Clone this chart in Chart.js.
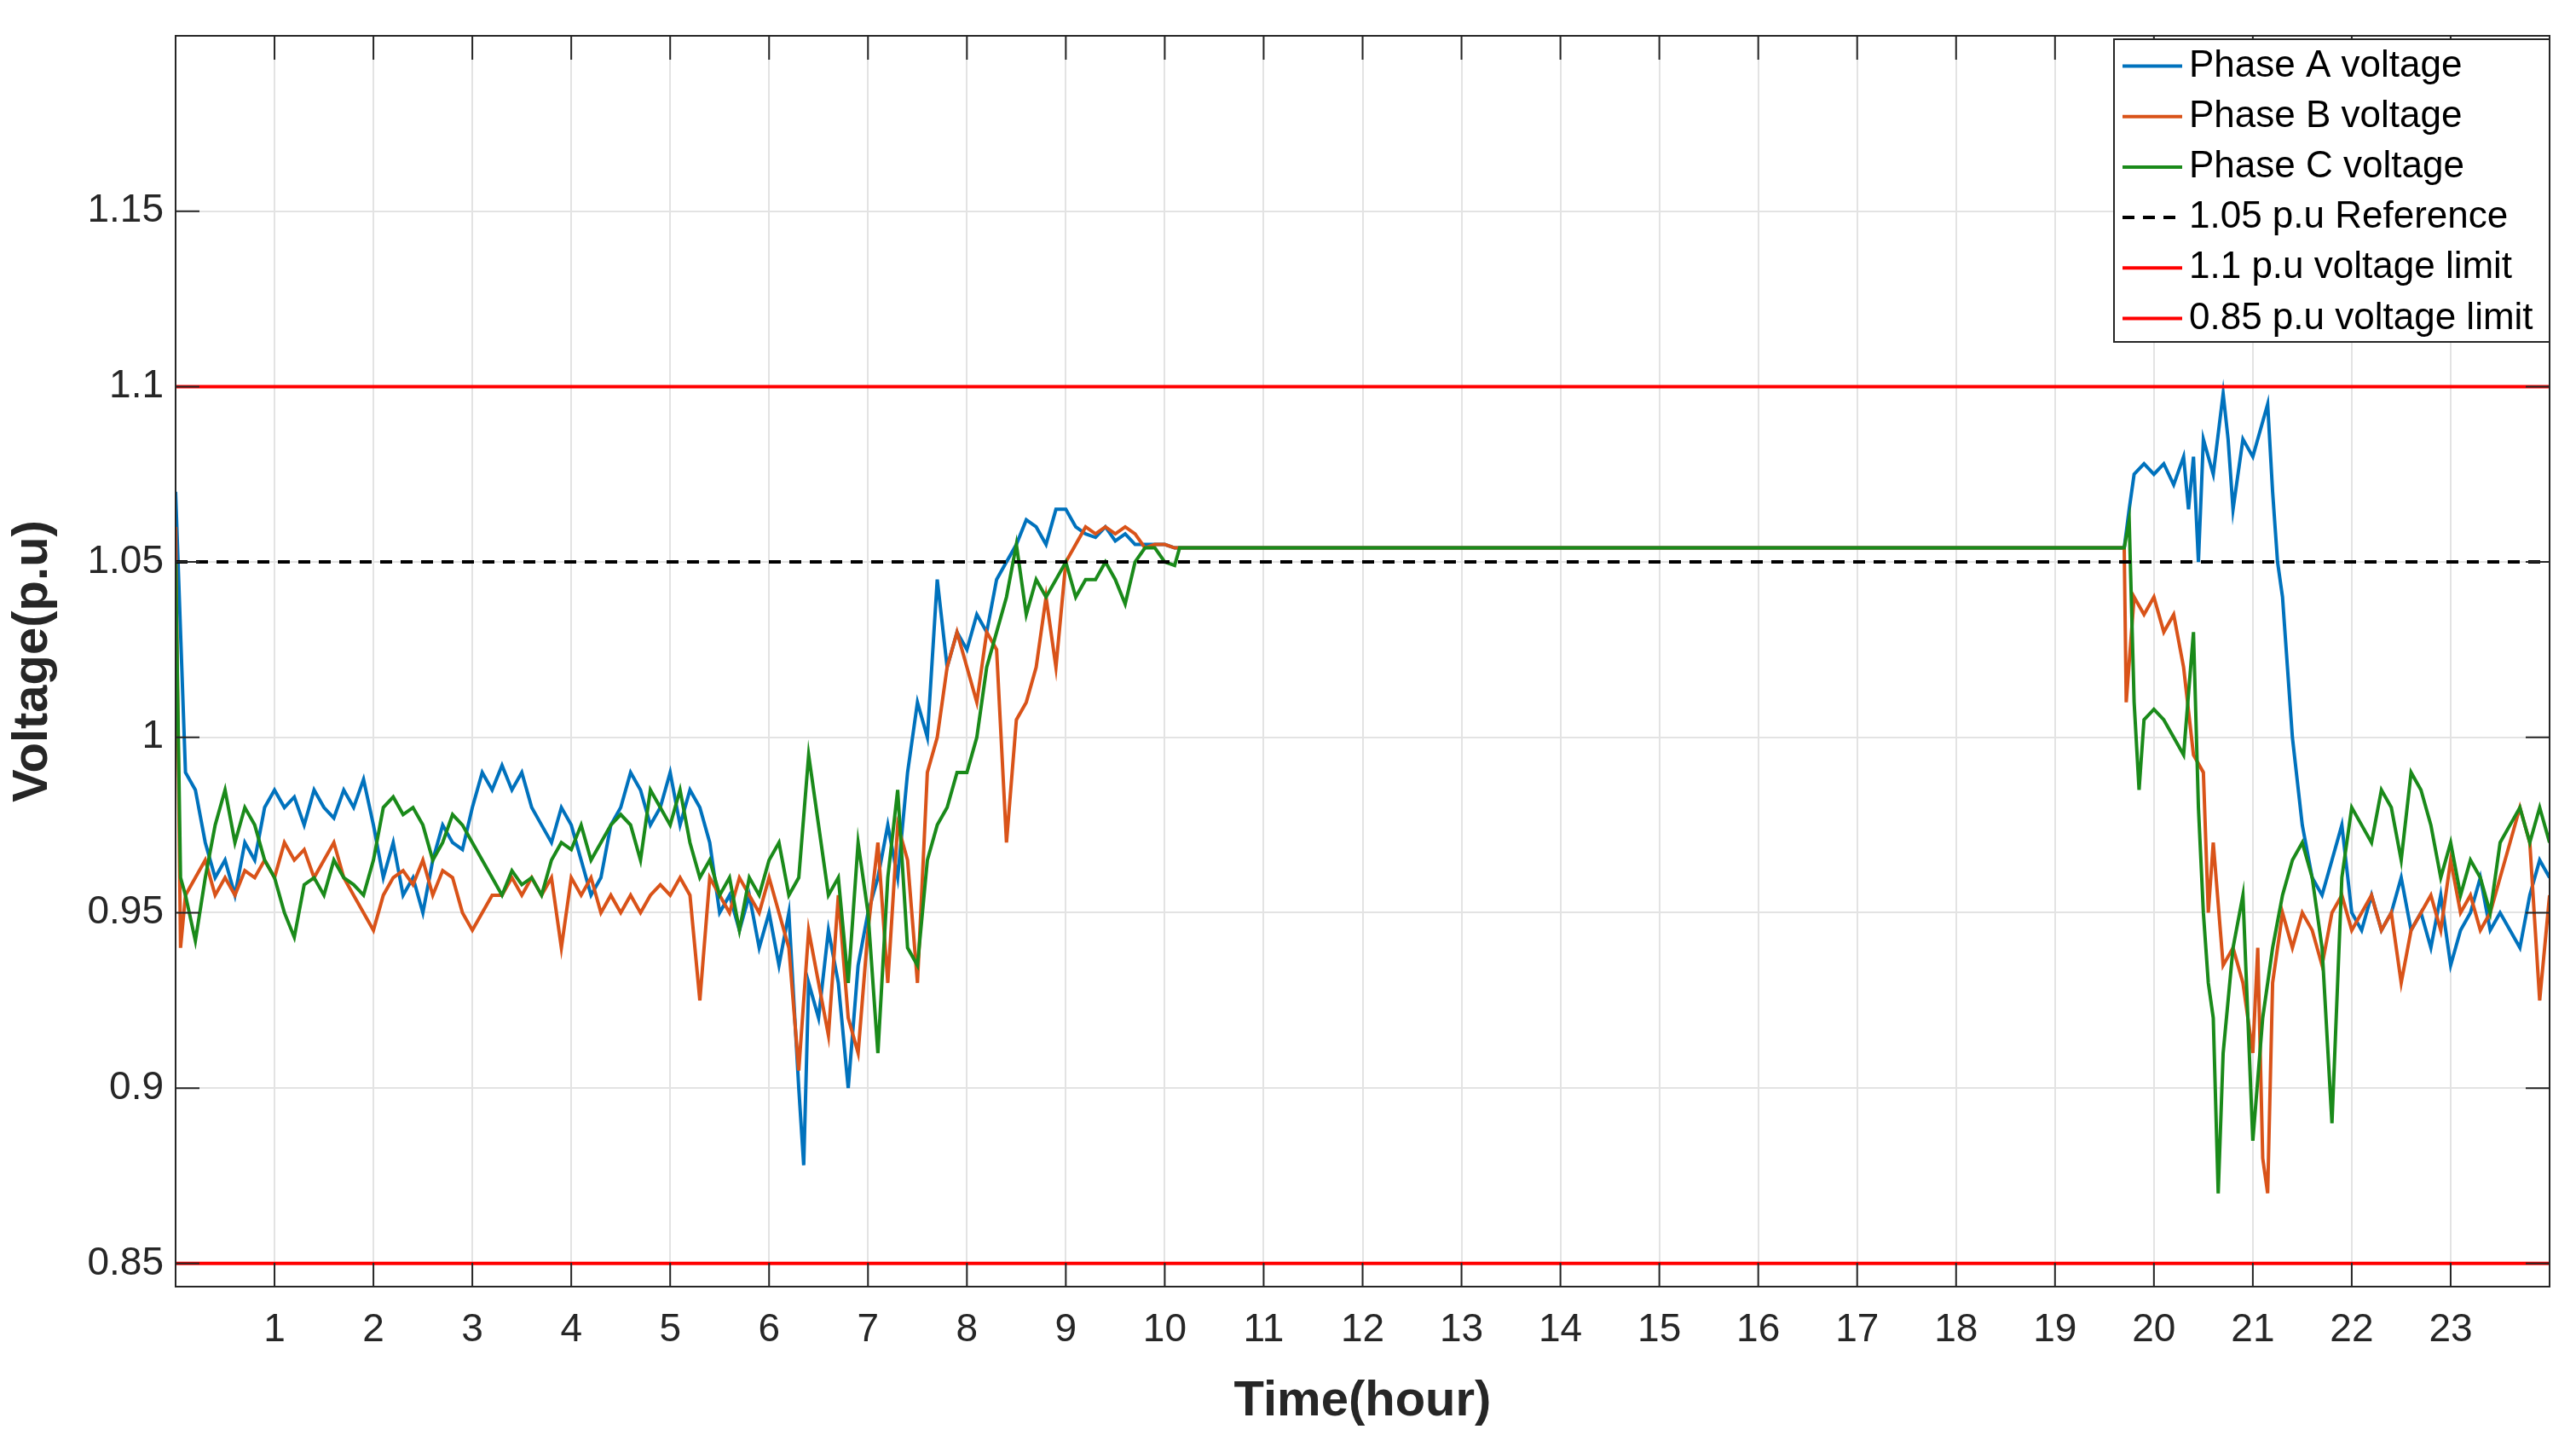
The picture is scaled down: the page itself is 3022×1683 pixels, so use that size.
<!DOCTYPE html>
<html><head><meta charset="utf-8">
<script src="https://cdn.jsdelivr.net/npm/chart.js@4"></script>
<style>html,body{margin:0;padding:0;background:#fff}#w{width:3022px;height:1683px}</style>
</head><body><div id="w"><canvas id="c"></canvas></div>
<script>
const xTicks=[1,2,3,4,5,6,7,8,9,10,11,12,13,14,15,16,17,18,19,20,21,22,23];
const yTicks=[0.85,0.9,0.95,1,1.05,1.1,1.15];
const seriesNames=["Phase A voltage","Phase B voltage","Phase C voltage","1.05 p.u Reference","1.1 p.u voltage limit","0.85 p.u voltage limit"];
const aTime=[0,0.1,0.2,0.3,0.4,0.5,0.6,0.7,0.8,0.9,1.0,1.1,1.2,1.3,1.4,1.5,1.6,1.7,1.8,1.9,2.0,2.1,2.2,2.3,2.4,2.5,2.6,2.7,2.8,2.9,3.0,3.1,3.2,3.3,3.4,3.5,3.6,3.7,3.8,3.9,4.0,4.1,4.2,4.3,4.4,4.5,4.6,4.7,4.8,4.9,5.0,5.1,5.2,5.3,5.4,5.5,5.6,5.7,5.8,5.9,6.0,6.1,6.2,6.3,6.35,6.4,6.5,6.6,6.7,6.8,6.9,7.0,7.1,7.2,7.3,7.4,7.5,7.6,7.7,7.8,7.9,8.0,8.1,8.2,8.3,8.4,8.5,8.6,8.7,8.8,8.9,9.0,9.1,9.2,9.3,9.4,9.5,9.6,9.7,9.8,9.9,10.0,10.1,19.7,19.75,19.8,19.9,20.0,20.1,20.2,20.3,20.35,20.4,20.45,20.5,20.6,20.7,20.75,20.8,20.9,21.0,21.1,21.15,21.2,21.25,21.3,21.35,21.4,21.5,21.6,21.7,21.8,21.9,22.0,22.1,22.2,22.3,22.4,22.5,22.6,22.7,22.8,22.9,23.0,23.1,23.2,23.3,23.4,23.5,23.6,23.7,23.8,23.9,24];
const aVolt=[1.07,0.99,0.985,0.97,0.96,0.965,0.955,0.97,0.965,0.98,0.985,0.98,0.983,0.975,0.985,0.98,0.977,0.985,0.98,0.988,0.975,0.96,0.97,0.955,0.96,0.95,0.965,0.975,0.97,0.968,0.98,0.99,0.985,0.992,0.985,0.99,0.98,0.975,0.97,0.98,0.975,0.965,0.955,0.96,0.975,0.98,0.99,0.985,0.975,0.98,0.99,0.975,0.985,0.98,0.97,0.95,0.955,0.945,0.955,0.94,0.95,0.935,0.95,0.9,0.878,0.93,0.92,0.945,0.93,0.9,0.935,0.95,0.96,0.975,0.96,0.99,1.01,1.0,1.045,1.02,1.03,1.025,1.035,1.03,1.045,1.05,1.055,1.062,1.06,1.055,1.065,1.065,1.06,1.058,1.057,1.06,1.056,1.058,1.055,1.055,1.055,1.055,1.054,1.054,1.065,1.075,1.078,1.075,1.078,1.072,1.08,1.065,1.08,1.05,1.085,1.075,1.098,1.085,1.065,1.085,1.08,1.09,1.095,1.07,1.05,1.04,1.02,1.0,0.975,0.96,0.955,0.965,0.975,0.95,0.945,0.955,0.945,0.95,0.96,0.945,0.95,0.94,0.955,0.935,0.945,0.95,0.96,0.945,0.95,0.945,0.94,0.955,0.965,0.96];
const bTime=[0,0.05,0.1,0.2,0.3,0.4,0.5,0.6,0.7,0.8,0.9,1.0,1.1,1.2,1.3,1.4,1.5,1.6,1.7,1.8,1.9,2.0,2.1,2.2,2.3,2.4,2.5,2.6,2.7,2.8,2.9,3.0,3.1,3.2,3.3,3.4,3.5,3.6,3.7,3.8,3.9,4.0,4.1,4.2,4.3,4.4,4.5,4.6,4.7,4.8,4.9,5.0,5.1,5.2,5.3,5.4,5.5,5.6,5.7,5.8,5.9,6.0,6.1,6.2,6.3,6.4,6.5,6.6,6.7,6.8,6.9,7.0,7.1,7.2,7.3,7.4,7.5,7.6,7.7,7.8,7.9,8.0,8.1,8.2,8.3,8.4,8.5,8.6,8.7,8.8,8.9,9.0,9.1,9.2,9.3,9.4,9.5,9.6,9.7,9.8,9.9,10.0,10.1,19.7,19.72,19.8,19.9,20.0,20.1,20.2,20.3,20.4,20.5,20.55,20.6,20.7,20.8,20.9,21.0,21.05,21.1,21.15,21.2,21.3,21.4,21.5,21.6,21.7,21.8,21.9,22.0,22.1,22.2,22.3,22.4,22.5,22.6,22.7,22.8,22.9,23.0,23.1,23.2,23.3,23.4,23.5,23.6,23.7,23.8,23.9,24];
const bVolt=[1.06,0.94,0.955,0.96,0.965,0.955,0.96,0.955,0.962,0.96,0.965,0.96,0.97,0.965,0.968,0.96,0.965,0.97,0.96,0.955,0.95,0.945,0.955,0.96,0.962,0.958,0.965,0.955,0.962,0.96,0.95,0.945,0.95,0.955,0.955,0.96,0.955,0.96,0.955,0.96,0.94,0.96,0.955,0.96,0.95,0.955,0.95,0.955,0.95,0.955,0.958,0.955,0.96,0.955,0.925,0.96,0.955,0.95,0.96,0.955,0.95,0.96,0.95,0.94,0.905,0.945,0.93,0.915,0.955,0.92,0.91,0.945,0.97,0.93,0.975,0.965,0.93,0.99,1.0,1.02,1.03,1.02,1.01,1.03,1.025,0.97,1.005,1.01,1.02,1.04,1.02,1.05,1.055,1.06,1.058,1.06,1.058,1.06,1.058,1.054,1.055,1.055,1.054,1.054,1.01,1.04,1.035,1.04,1.03,1.035,1.02,0.995,0.99,0.95,0.97,0.935,0.94,0.93,0.91,0.94,0.88,0.87,0.93,0.95,0.94,0.95,0.945,0.935,0.95,0.955,0.945,0.95,0.955,0.945,0.95,0.93,0.945,0.95,0.955,0.945,0.965,0.95,0.955,0.945,0.95,0.96,0.97,0.98,0.97,0.925,0.955];
const cTime=[0,0.05,0.1,0.2,0.3,0.4,0.5,0.6,0.7,0.8,0.9,1.0,1.1,1.2,1.3,1.4,1.5,1.6,1.7,1.8,1.9,2.0,2.1,2.2,2.3,2.4,2.5,2.6,2.7,2.8,2.9,3.0,3.1,3.2,3.3,3.4,3.5,3.6,3.7,3.8,3.9,4.0,4.1,4.2,4.3,4.4,4.5,4.6,4.7,4.8,4.9,5.0,5.1,5.2,5.3,5.4,5.5,5.6,5.7,5.8,5.9,6.0,6.1,6.2,6.3,6.4,6.5,6.6,6.7,6.8,6.9,7.0,7.1,7.2,7.3,7.4,7.5,7.6,7.7,7.8,7.9,8.0,8.1,8.2,8.3,8.4,8.5,8.6,8.7,8.8,8.9,9.0,9.1,9.2,9.3,9.4,9.5,9.6,9.7,9.8,9.9,10.0,10.1,10.15,19.7,19.75,19.8,19.85,19.9,20.0,20.1,20.2,20.3,20.4,20.45,20.5,20.55,20.6,20.65,20.7,20.8,20.9,21.0,21.1,21.2,21.3,21.4,21.5,21.6,21.7,21.8,21.9,22.0,22.1,22.2,22.3,22.4,22.5,22.6,22.7,22.8,22.9,23.0,23.1,23.2,23.3,23.4,23.5,23.6,23.7,23.8,23.9,24];
const cVolt=[1.05,0.96,0.955,0.942,0.96,0.975,0.985,0.97,0.98,0.975,0.965,0.96,0.95,0.943,0.958,0.96,0.955,0.965,0.96,0.958,0.955,0.965,0.98,0.983,0.978,0.98,0.975,0.965,0.97,0.978,0.975,0.97,0.965,0.96,0.955,0.962,0.958,0.96,0.955,0.965,0.97,0.968,0.975,0.965,0.97,0.975,0.978,0.975,0.965,0.985,0.98,0.975,0.985,0.97,0.96,0.965,0.955,0.96,0.945,0.96,0.955,0.965,0.97,0.955,0.96,0.995,0.975,0.955,0.96,0.93,0.97,0.95,0.91,0.96,0.985,0.94,0.935,0.965,0.975,0.98,0.99,0.99,1.0,1.02,1.03,1.04,1.055,1.035,1.045,1.04,1.045,1.05,1.04,1.045,1.045,1.05,1.045,1.038,1.05,1.054,1.054,1.05,1.049,1.054,1.054,1.062,1.01,0.985,1.005,1.008,1.005,1.0,0.995,1.03,0.98,0.95,0.93,0.92,0.87,0.91,0.94,0.955,0.885,0.92,0.94,0.955,0.965,0.97,0.96,0.94,0.89,0.96,0.98,0.975,0.97,0.985,0.98,0.965,0.99,0.985,0.975,0.96,0.97,0.955,0.965,0.96,0.95,0.97,0.975,0.98,0.97,0.98,0.97];
const limitTime=[0,24];
const refVolt=[1.05,1.05];
const upperVolt=[1.1,1.1];
const lowerVolt=[0.85,0.85];

const pts=(t,v)=>t.map((x,i)=>({x:x,y:v[i]}));
const colors=['#0072BD','#D95319','#1A8A1A','#000000','#FF0000','#FF0000'];
const F='"Liberation Sans", Arial, sans-serif';
const mk=(i,t,v,extra)=>Object.assign({label:seriesNames[i],data:pts(t,v),borderColor:colors[i],borderWidth:4,pointRadius:0,tension:0,order:6-i},extra||{});

const boxPlugin={id:'box',afterDraw(ch){
  const c=ch.ctx,a=ch.chartArea;
  c.save();
  c.strokeStyle='#262626';c.lineWidth=2;
  c.strokeRect(a.left,a.top,a.right-a.left,a.bottom-a.top);
  const xs=ch.scales.x,ys=ch.scales.y;
  c.beginPath();
  xTicks.forEach(t=>{const p=xs.getPixelForValue(t);c.moveTo(p,a.bottom);c.lineTo(p,a.bottom-28);c.moveTo(p,a.top);c.lineTo(p,a.top+28);});
  yTicks.forEach(t=>{const p=ys.getPixelForValue(t);c.moveTo(a.left,p);c.lineTo(a.left+28,p);c.moveTo(a.right,p);c.lineTo(a.right-28,p);});
  c.stroke();
  const L=2480,T=46,R=2991,B=401;
  c.fillStyle='#fff';c.fillRect(L,T,R-L,B-T);
  c.strokeStyle='#262626';c.lineWidth=2;c.strokeRect(L,T,R-L,B-T);
  c.font='44px '+F;c.textBaseline='middle';c.textAlign='left';
  const rowH=(B-T)/6;
  ch.data.datasets.forEach((d,i)=>{
    const y=T+rowH*(i+0.5)+2;
    c.strokeStyle=d.borderColor;c.lineWidth=4;c.setLineDash(d.borderDash||[]);
    c.beginPath();c.moveTo(L+10,y);c.lineTo(L+80,y);c.stroke();c.setLineDash([]);
    c.fillStyle='#000';c.fillText(d.label,L+88,y);
  });
  c.restore();
}};

new Chart(document.getElementById('c'),{
  type:'line',
  data:{datasets:[
    mk(0,aTime,aVolt),mk(1,bTime,bVolt),mk(2,cTime,cVolt),
    mk(3,limitTime,refVolt,{borderDash:[14,10]}),
    mk(4,limitTime,upperVolt),mk(5,limitTime,lowerVolt)
  ]},
  options:{responsive:true,maintainAspectRatio:false,animation:false,
    layout:{padding:{top:42,right:31,left:0,bottom:0}},
    plugins:{legend:{display:false},tooltip:{enabled:false}},
    scales:{
      x:{type:'linear',min:0,max:24,
        afterBuildTicks:s=>{s.ticks=xTicks.map(v=>({value:v}));},
        afterFit:s=>{s.height=174;},
        grid:{color:'#e3e3e3',lineWidth:2,drawTicks:false},border:{display:false},
        ticks:{color:'#262626',font:{family:F,size:46},padding:24,maxRotation:0},
        title:{display:true,text:'Time(hour)',color:'#262626',font:{family:F,size:58,weight:'bold'},padding:{top:8}}},
      y:{type:'linear',min:0.8434,max:1.2,
        afterBuildTicks:s=>{s.ticks=yTicks.map(v=>({value:v}));},
        afterFit:s=>{s.width=206;},
        grid:{color:'#e3e3e3',lineWidth:2,drawTicks:false},border:{display:false},
        ticks:{color:'#262626',font:{family:F,size:46},padding:14,callback:v=>String(+v.toFixed(2))},
        title:{display:true,text:'Voltage(p.u)',color:'#262626',font:{family:F,size:58,weight:'bold'},padding:{bottom:4}}}
    }},
  plugins:[boxPlugin]
});
</script></body></html>
